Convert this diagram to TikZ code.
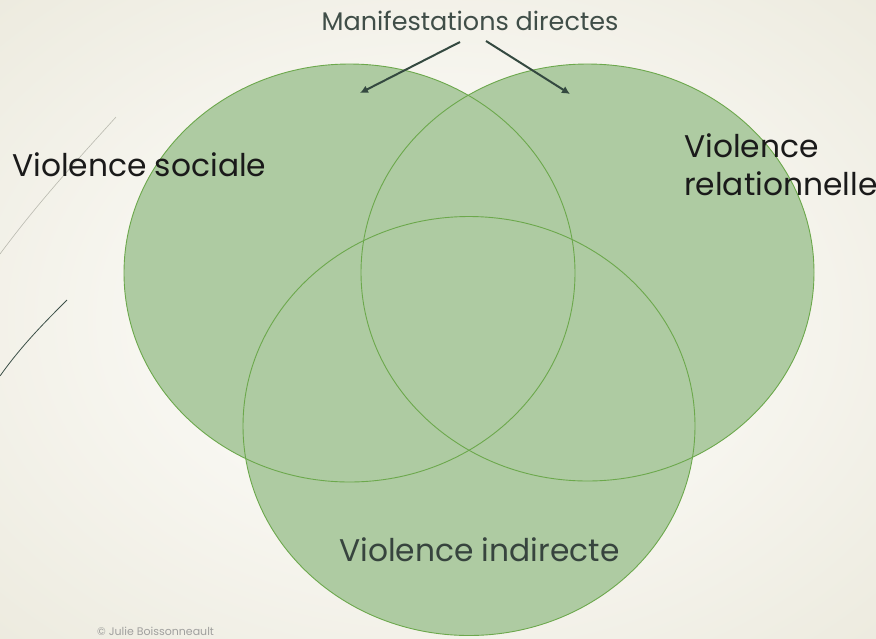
\documentclass[tikz,border=0pt]{standalone}
\usepackage{fontspec}
\setmainfont{Poppins}
\usetikzlibrary{arrows.meta,shapes.geometric}
\definecolor{bgc}{RGB}{249,248,243}
\definecolor{bge}{RGB}{224,221,202}
\definecolor{vfill}{RGB}{174,203,162}
\definecolor{vline}{RGB}{108,168,76}
\definecolor{arrc}{RGB}{52,73,64}
\definecolor{mantxt}{RGB}{64,78,72}
\definecolor{indtxt}{RGB}{55,68,62}
\definecolor{copyc}{RGB}{160,160,158}
\pgfdeclareradialshading{bgshade}{\pgfpoint{0bp}{0bp}}{color(0bp)=(bgc); color(12bp)=(bgc); color(52bp)=(bge); color(80bp)=(bge)}
\tikzset{
  vset/.style={ellipse, fill=vfill, inner sep=0pt},
  vout/.style={draw=vline, line width=0.9pt},
  arr/.style={draw=arrc, line width=2pt, -{Latex[length=8pt,width=8pt]}},
  biglabel/.style={font=\fontsize{31.3}{37}\selectfont, inner sep=0pt, align=left}
}
\begin{document}
\begin{tikzpicture}[x=1pt,y=-1pt]
\useasboundingbox (0,0) rectangle (876,638);
\shade[shading=bgshade] (-60,-40) rectangle (936,678);
% decorative template lines
\draw[color={rgb,255:red,185;green,185;blue,175}, line width=0.6pt] (116,117) .. controls (80,157) and (40,200) .. (0,254);
\draw[color={rgb,255:red,60;green,80;blue,72}, line width=0.8pt] (67,300) .. controls (45,322) and (22,345) .. (0,376);
% sets (fills)
\node[vset, minimum width=451pt, minimum height=418pt] (soc) at (349.5,273) {};
\node[vset, minimum width=453pt, minimum height=417pt] (rel) at (587.5,272.5) {};
\node[vset, minimum width=452pt, minimum height=419pt] (ind) at (469,426) {};
% outlines
\draw[vout] (soc.center) ellipse [x radius=225.5, y radius=209];
\draw[vout] (rel.center) ellipse [x radius=226.5, y radius=208.5];
\draw[vout] (ind.center) ellipse [x radius=226, y radius=209.5];
% labels
\node[biglabel, anchor=base west, text={rgb,255:red,26;green,26;blue,26}] (lsoc) at (12,176) {Violence sociale};
\node[biglabel, anchor=base west, text={rgb,255:red,26;green,26;blue,26}] (lrel1) at (684,157) {Violence};
\node[biglabel, anchor=base west, text={rgb,255:red,26;green,26;blue,26}] (lrel2) at (684,195) {relationnelle};
\node[biglabel, anchor=base west, text=indtxt] (lind) at (339,561) {Violence indirecte};
\node[font=\fontsize{25.5}{30}\selectfont, anchor=base, inner sep=0pt, text=mantxt] (man) at (470,30) {Manifestations directes};
\node[font=\fontsize{11}{13}\selectfont, anchor=base west, inner sep=0pt, text=copyc] (copy) at (97,635) {© Julie Boissonneault};
% arrows
\coordinate (s1) at (460,42);
\coordinate (t1) at (360,93);
\coordinate (s2) at (486,41);
\coordinate (t2) at (570,94);
\draw[arr] (s1) -- (t1);
\draw[arr] (s2) -- (t2);
\end{tikzpicture}
\end{document}
